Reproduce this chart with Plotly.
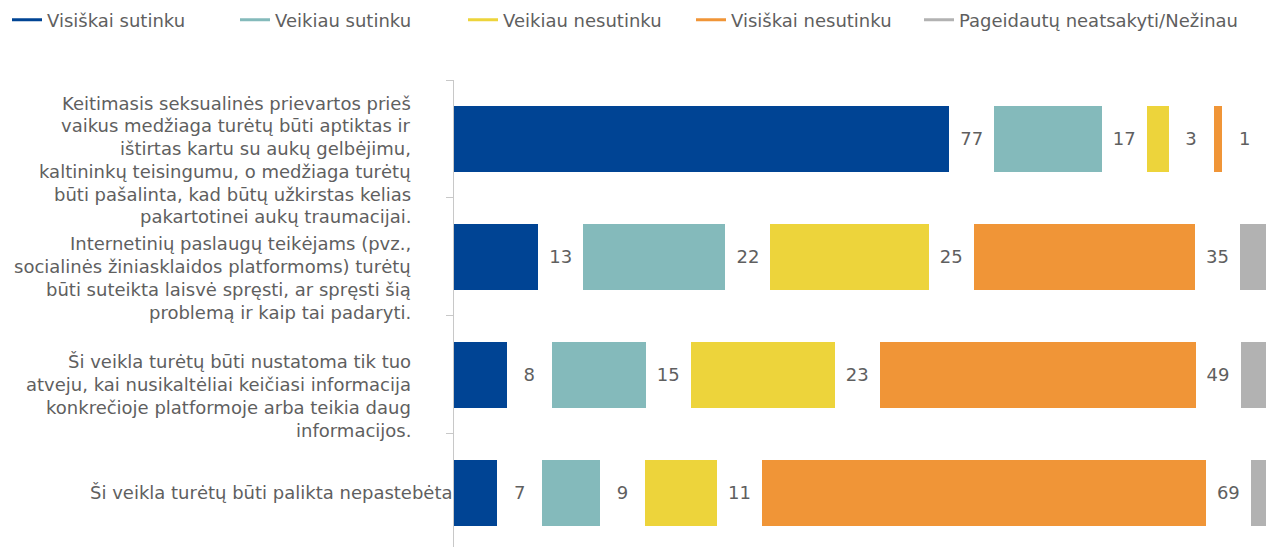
import plotly.graph_objects as go

# ---------------- data ----------------
categories = [
    "Keitimasis seksualinės prievartos prieš<br>vaikus medžiaga turėtų būti aptiktas ir<br>ištirtas kartu su aukų gelbėjimu,<br>kaltininkų teisingumu, o medžiaga turėtų<br>būti pašalinta, kad būtų užkirstas kelias<br>pakartotinei aukų traumacijai.",
    "Internetinių paslaugų teikėjams (pvz.,<br>socialinės žiniasklaidos platformoms) turėtų<br>būti suteikta laisvė spręsti, ar spręsti šią<br>problemą ir kaip tai padaryti.",
    "Ši veikla turėtų būti nustatoma tik tuo<br>atveju, kai nusikaltėliai keičiasi informacija<br>konkrečioje platformoje arba teikia daug<br>informacijos.",
    "Ši veikla turėtų būti palikta nepastebėta",
]
series_names = [
    "Visiškai sutinku",
    "Veikiau sutinku",
    "Veikiau nesutinku",
    "Visiškai nesutinku",
    "Pageidautų neatsakyti/Nežinau",
]
visiskai_sutinku = [77.0, 13.1, 8.2, 6.7]
veikiau_sutinku = [16.7, 22.1, 14.6, 9.0]
veikiau_nesutinku = [3.4, 24.6, 22.4, 11.2]
visiskai_nesutinku = [1.35, 34.4, 49.1, 69.0]
nezinau = [2, 5, 5, 4]

labels_vs = [77, 13, 8, 7]
labels_vsu = [17, 22, 15, 9]
labels_vn = [3, 25, 23, 11]
labels_vne = [1, 35, 49, 69]

# ---------------- style ----------------
colors = ["#004494", "#84BABB", "#EDD43B", "#F09537", "#B2B2B2"]
GAP = 7  # spacer width (axis units) holding the value label
FONT = "Verdana, DejaVu Sans, sans-serif"
FS = 18
TXT = "#5f5f5f"
AXC = "#c8c8c8"

values = [visiskai_sutinku, veikiau_sutinku, veikiau_nesutinku, visiskai_nesutinku, nezinau]
labels = [labels_vs, labels_vsu, labels_vn, labels_vne]

fig = go.Figure()
for i, (name, vals, col) in enumerate(zip(series_names, values, colors)):
    fig.add_trace(go.Bar(
        y=categories, x=vals, orientation="h", name=name,
        marker=dict(color=col, line=dict(width=0)),
        showlegend=False, hoverinfo="skip",
    ))
    if i < 4:
        fig.add_trace(go.Bar(
            y=categories, x=[GAP] * len(categories), orientation="h",
            marker=dict(color="rgba(0,0,0,0)", line=dict(width=0)),
            text=[str(v) for v in labels[i]], textposition="inside",
            insidetextanchor="middle", textangle=0, constraintext="none",
            textfont=dict(family=FONT, size=FS, color=TXT),
            showlegend=False, hoverinfo="skip",
        ))

# legend-only line entries (last one in its own legend so its text is not clipped)
for j, (name, col) in enumerate(zip(series_names, colors)):
    fig.add_trace(go.Scatter(
        x=[None], y=[None], mode="lines", name=name,
        line=dict(color=col, width=3), hoverinfo="skip",
        legend="legend" if j < 4 else "legend2",
    ))

# category labels as per-line annotations
PITCH = 22.7
for ci, cat in enumerate(categories):
    lines = cat.split("<br>")
    n = len(lines)
    extra = 21 if n > 1 else 0
    xshift = -41 if n > 1 else 1
    for k, ln in enumerate(lines):
        off = (k - (n - 1) / 2) * PITCH + extra
        fig.add_annotation(
            x=0, xref="paper", y=cat, yref="y",
            text=ln, showarrow=False, xanchor="right", yanchor="middle",
            xshift=xshift, yshift=-off,
            font=dict(family=FONT, size=FS, color=TXT),
        )

W, H = 1266, 539
L, T = 446, 72
PW, PH = W - L, H - T
LEG_X = -1
LEG_PITCH = 228
leg_common = dict(
    orientation="h", traceorder="normal",
    xanchor="left", yref="paper", y=1 + (T - 12) / PH, yanchor="middle",
    font=dict(family=FONT, size=FS, color=TXT),
    itemwidth=30, bgcolor="rgba(0,0,0,0)",
)
fig.update_layout(
    template="none",
    width=W, height=H,
    margin=dict(l=L, r=0, t=T, b=0, pad=0, autoexpand=False),
    barmode="stack", bargap=0.44,
    paper_bgcolor="white", plot_bgcolor="white",
    font=dict(family=FONT, size=FS, color=TXT),
    showlegend=True,
    legend=dict(xref="paper", x=(LEG_X - L) / PW,
                entrywidth=LEG_PITCH - 45, entrywidthmode="pixels", **leg_common),
    legend2=dict(xref="paper", x=(LEG_X + 4 * LEG_PITCH - L) / PW, **leg_common),
    xaxis=dict(visible=False, range=[0, 127.5], fixedrange=True),
    yaxis=dict(
        type="category", categoryorder="array", categoryarray=categories,
        range=[3.458, -0.5], showticklabels=False, showgrid=False,
        zeroline=False, showline=True, linecolor=AXC, linewidth=1,
        ticks="outside", tickson="boundaries", ticklen=7, tickcolor=AXC,
        tickwidth=1,
    ),
)

fig.write_html("out.html")
